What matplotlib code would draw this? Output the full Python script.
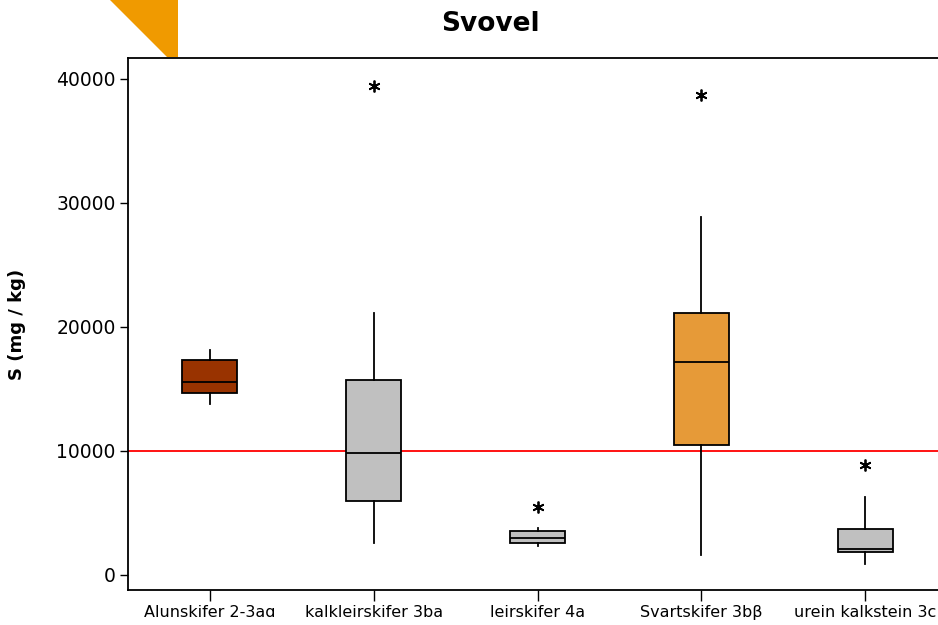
import matplotlib.pyplot as plt
from matplotlib.patches import Polygon

# Sulphur content per rock type
categories = ['Alunskifer 2-3aɑ', 'kalkleirskifer 3ba', 'leirskifer 4a',
              'Svartskifer 3bβ', 'urein kalkstein 3c']
whislo = [13790, 2580, 2340, 1610, 890]
q1 = [14680, 5970, 2580, 10480, 1860]
med = [15570, 9840, 2980, 17180, 2100]
q3 = [17340, 15730, 3550, 21130, 3710]
whishi = [18150, 21100, 3790, 28870, 6290]
outliers = [[], [39430], [5480], [38710], [8870]]
colors = ['#993300', '#C0C0C0', '#C0C0C0', '#E69A38', '#C0C0C0']
limit = 10000

stats = []
for i, name in enumerate(categories):
    stats.append(dict(label=name, whislo=whislo[i], q1=q1[i], med=med[i],
                      q3=q3[i], whishi=whishi[i], fliers=outliers[i]))

fig = plt.figure(figsize=(9.38, 6.25), dpi=100)
ax = fig.add_axes([128 / 938, 35 / 625, 810 / 938, 532 / 625])

bp = ax.bxp(stats, positions=range(1, 6), widths=0.335, patch_artist=True,
            showcaps=False,
            boxprops=dict(linewidth=1.3, edgecolor='black'),
            medianprops=dict(color='black', linewidth=1.3),
            whiskerprops=dict(color='black', linewidth=1.3),
            flierprops=dict(marker=(6, 2, 0), markersize=8.5, markeredgecolor='black',
                            markeredgewidth=1.3, markerfacecolor='none'))
for patch, c in zip(bp['boxes'], colors):
    patch.set_facecolor(c)

ax.axhline(limit, color='#FF0000', linewidth=1.3, zorder=1)

ax.set_xlim(0.5, 5.445)
ax.set_ylim(-1210, 41690)
ax.set_yticks([0, 10000, 20000, 30000, 40000])
ax.set_xticks(range(1, 6))
ax.set_xticklabels(categories)
ax.tick_params(axis='both', direction='out', width=1)
ax.tick_params(axis='y', length=6, pad=3, labelsize=13.5)
ax.tick_params(axis='x', length=8, pad=3, labelsize=11.5)
ax.spines['right'].set_visible(False)
for s in ['left', 'bottom', 'top']:
    ax.spines[s].set_linewidth(1.3)

ax.set_ylabel('S (mg / kg)', fontsize=13, fontweight='bold')
ax.yaxis.set_label_coords(-102 / 810, 0.5)
fig.text(490 / 938, 1 - 24 / 625, 'Svovel', ha='center', va='center',
         fontsize=19, fontweight='bold')

# orange corner marker above the plot
fig.patches.append(Polygon([(110 / 938, 1), (178 / 938, 1), (178 / 938, 1 - 57 / 625),
                            (167 / 938, 1 - 57 / 625)], closed=True,
                           transform=fig.transFigure, facecolor='#F09A00',
                           edgecolor='none'))

fig.savefig('out.png', dpi=100)
